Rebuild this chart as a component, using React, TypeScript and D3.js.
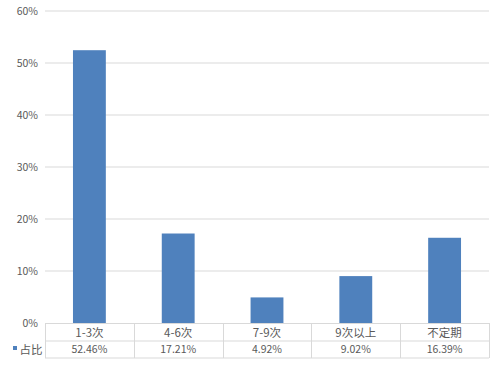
import React from "react";
import * as d3 from "d3";

const categories = ["1-3次", "4-6次", "7-9次", "9次以上", "不定期"];
const values = [52.46, 17.21, 4.92, 9.02, 16.39];
const valueLabels = ["52.46%", "17.21%", "4.92%", "9.02%", "16.39%"];
const yTicks = [0, 10, 20, 30, 40, 50, 60];
const seriesName = "占比";

const W = 499;
const H = 369;
const left = 45;
const right = 489;
const top = 11;
const bottom = 323;
const row1 = 341;
const row2 = 358;
const font = "'Noto Sans CJK SC', 'Liberation Sans', sans-serif";
const textColor = "#595959";
const lineColor = "#d9d9d9";
const barColor = "#4F81BD";

export default function App() {
  const x = d3.scaleBand<string>().domain(categories).range([left, right]).paddingInner(0.63).paddingOuter(0.315);
  const xb = d3.scaleBand<string>().domain(categories).range([left, right]);
  const y = d3.scaleLinear().domain([0, 60]).range([bottom, top]);

  return (
    <svg width={W} height={H} style={{ position: "absolute", left: 0, top: 0, background: "#fff" }} fontFamily={font}>
      <rect width={W} height={H} fill="#fff" />
      {yTicks.map((t) => (
        <g key={t}>
          {t > 0 && <line x1={left} x2={right} y1={y(t)} y2={y(t)} stroke={lineColor} strokeWidth={1} />}
          <text x={38} y={y(t)} dy="0.35em" textAnchor="end" fontSize={10.5} fill={textColor}>
            {t}%
          </text>
        </g>
      ))}
      {categories.map((c, i) => (
        <rect key={c} x={x(c)} width={x.bandwidth()} y={y(values[i])} height={bottom - y(values[i])} fill={barColor} />
      ))}
      {/* table */}
      <line x1={left} x2={right} y1={bottom + 0.5} y2={bottom + 0.5} stroke={lineColor} />
      <line x1={left} x2={right} y1={row1} y2={row1} stroke={lineColor} />
      <line x1={left} x2={right} y1={row2} y2={row2} stroke={lineColor} />
      {[...categories.map((c) => xb(c) as number), right].map((v, i) => (
        <line key={i} x1={Math.round(v) + 0.5} x2={Math.round(v) + 0.5} y1={bottom} y2={row2} stroke={lineColor} />
      ))}
      {categories.map((c, i) => (
        <g key={c}>
          <text x={(xb(c) as number) + xb.bandwidth() / 2} y={(bottom + row1) / 2 + 1} dy="0.35em" textAnchor="middle" fontSize={11.5} fill={textColor}>
            {c}
          </text>
          <text x={(xb(c) as number) + xb.bandwidth() / 2} y={(row1 + row2) / 2} dy="0.35em" textAnchor="middle" fontSize={10.5} fill={textColor}>
            {valueLabels[i]}
          </text>
        </g>
      ))}
      <rect x={13} y={346} width={4} height={4} fill={barColor} />
      <text x={19.5} y={(row1 + row2) / 2} dy="0.35em" fontSize={11.5} fill={textColor}>
        {seriesName}
      </text>
    </svg>
  );
}
